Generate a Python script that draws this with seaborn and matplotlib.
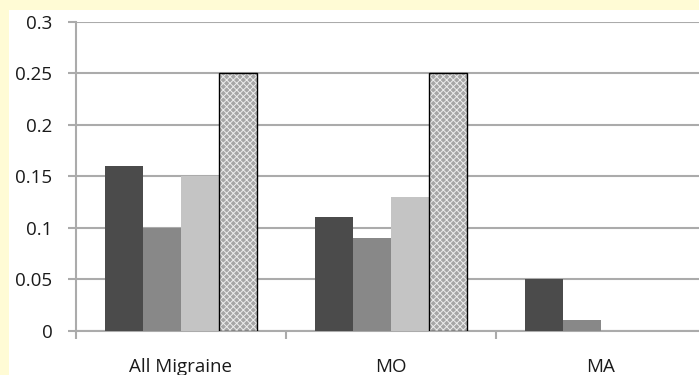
import matplotlib
matplotlib.use("Agg")
import matplotlib.pyplot as plt
import seaborn as sns
import pandas as pd
from matplotlib.patches import Rectangle

categories = ["All Migraine", "MO", "MA"]
series = ["S1", "S2", "S3", "S4"]
s1 = [0.16, 0.11, 0.05]
s2 = [0.10, 0.09, 0.01]
s3 = [0.15, 0.13, 0.0]
s4 = [0.25, 0.25, 0.0]
yticks = [0, 0.05, 0.1, 0.15, 0.2, 0.25, 0.3]
ytick_labels = ["0", "0.05", "0.1", "0.15", "0.2", "0.25", "0.3"]

rows = []
for name, vals in zip(series, [s1, s2, s3, s4]):
    for c, v in zip(categories, vals):
        rows.append({"category": c, "series": name, "value": v})
df = pd.DataFrame(rows)

sns.set_style("white")
plt.rcParams["font.family"] = ["Open Sans", "DejaVu Sans"]
plt.rcParams["hatch.linewidth"] = 0.7

fig = plt.figure(figsize=(6.99, 3.75), dpi=100)
fig.patch.set_facecolor("#FFFBD5")
fig.patches.append(Rectangle((9 / 699, 0), 1, 1 - 10 / 375, transform=fig.transFigure,
                             facecolor="white", edgecolor="none", zorder=-10))

ax = fig.add_axes([76 / 699, 44.3 / 375, 630 / 699, 309 / 375])
ax.set_facecolor("none")
palette = {"S1": "#4B4B4B", "S2": "#888888", "S3": "#C4C4C4", "S4": "#A6A6A6"}
sns.barplot(data=df, x="category", y="value", hue="series", order=categories,
            hue_order=series, palette=palette, width=0.72, ax=ax, legend=False,
            saturation=1, linewidth=0, errorbar=None, zorder=3)

# hatched last series
n = len(categories)
for i, p in enumerate(ax.patches):
    if i >= 3 * n and p.get_height() > 0:
        p.set_hatch("xxxxx")
        p.set_edgecolor("black")
        p.set_linewidth(1.0)
        p._hatch_color = (0.93, 0.93, 0.93, 1)

ax.set_ylim(0, 0.3)
ax.set_xlim(-0.5, 2.5)
ax.set_yticks(yticks)
ax.set_yticklabels(ytick_labels)
ax.yaxis.grid(True, color="#ABABAB", linewidth=1.5, zorder=0)
ax.set_axisbelow(True)
ax.set_xlabel("")
ax.set_ylabel("")

for s in ["top", "right"]:
    ax.spines[s].set_visible(False)
for s in ["left", "bottom"]:
    ax.spines[s].set_color("#ABABAB")
    ax.spines[s].set_linewidth(1.5)

ax.tick_params(axis="y", length=6, width=1.5, color="#ABABAB", pad=11,
               labelsize=13.5, labelcolor="#1a1a1a", left=True)
ax.tick_params(axis="x", which="major", length=0, pad=19.5, labelsize=13.5,
               labelcolor="#1a1a1a")
ax.set_xticks([-0.5, 0.5, 1.5, 2.5], minor=True)
ax.tick_params(axis="x", which="minor", length=6, width=1.5, color="#ABABAB", bottom=True)

fig.savefig("out.png", dpi=100)
